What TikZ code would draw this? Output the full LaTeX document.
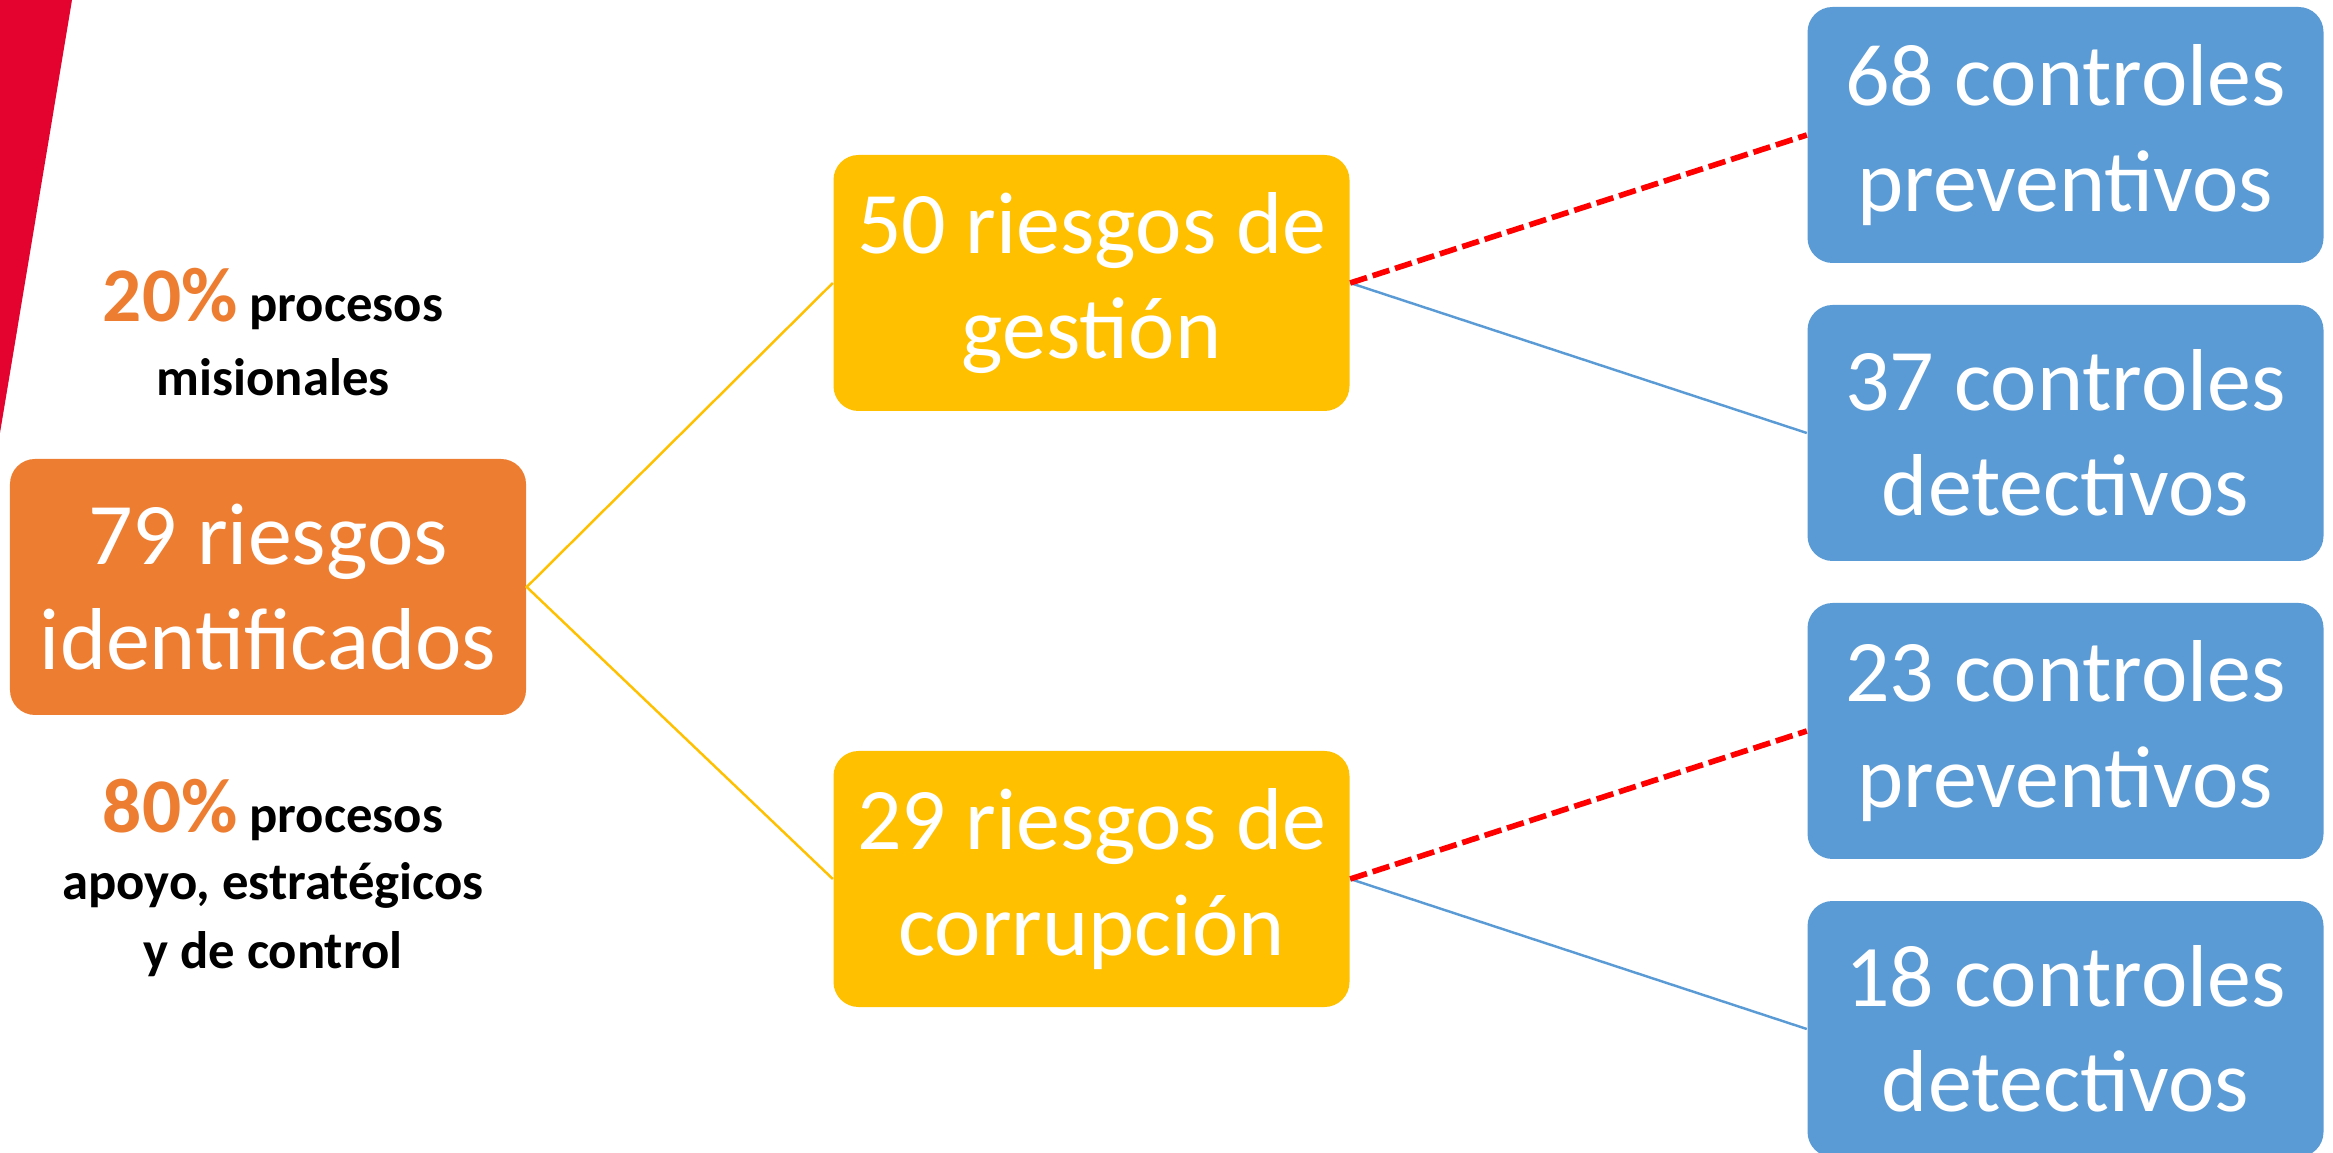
\documentclass[tikz,border=0pt]{standalone}
\usepackage{fontspec}
\setmainfont{Carlito}
\usepackage{tikz}

\definecolor{wedgered}{HTML}{E4032E}
\definecolor{riskorange}{HTML}{ED7D31}
\definecolor{riskyellow}{HTML}{FFC000}
\definecolor{ctrlblue}{HTML}{5B9BD5}
\definecolor{dashred}{HTML}{FF0000}

\newcommand{\pctnum}[1]{{\color{riskorange}\fontsize{22}{26}\selectfont\bfseries #1}}

\tikzset{
  box/.style={rounded corners=0.25cm, minimum width=5.16cm, minimum height=2.56cm,
    inner sep=0pt, align=center, text=white, font=\fontsize{25}{30}\selectfont},
  note/.style={anchor=base, inner sep=0pt, font=\fontsize{15}{19}\selectfont\bfseries}
}

\begin{document}
\begin{tikzpicture}
  \useasboundingbox (0,0) rectangle (23.33,-11.53);
  %% red corner
  \fill[wedgered] (0,0) -- (0.72,0) -- (0,-4.33) -- cycle;
  %% boxes
  \node[box, fill=riskorange] (total) at (2.68,-5.87) {79 riesgos\\identificados};
  \node[box, fill=riskyellow] (gestion) at (10.915,-2.83) {50 riesgos de\\gestión};
  \node[box, fill=riskyellow] (corrup) at (10.915,-8.79) {29 riesgos de\\corrupción};
  \node[box, fill=ctrlblue] (gprev) at (20.655,-1.35) {68 controles\\preventivos};
  \node[box, fill=ctrlblue] (gdet) at (20.655,-4.33) {37 controles\\detectivos};
  \node[box, fill=ctrlblue] (cprev) at (20.655,-7.31) {23 controles\\preventivos};
  \node[box, fill=ctrlblue] (cdet) at (20.655,-10.29) {18 controles\\detectivos};
  %% notes
  \node[note] (misA) at (2.73,-3.22) {\pctnum{20\%} procesos};
  \node[note] (misB) at (2.73,-3.96) {misionales};
  \node[note] (apoA) at (2.73,-8.32) {\pctnum{80\%} procesos};
  \node[note] (apoB) at (2.73,-9.00) {apoyo, estratégicos};
  \node[note] (apoC) at (2.73,-9.68) {y de control};
  %% connectors
  \draw[riskyellow, line width=0.7pt] (gestion.west) -- (total.east) -- (corrup.west);
  \draw[ctrlblue, line width=0.7pt] (gestion.east) -- (gdet.west);
  \draw[ctrlblue, line width=0.7pt] (corrup.east) -- (cdet.west);
  \draw[dashred, line width=1.6pt, dash pattern=on 5pt off 1.7pt] (gestion.east) -- (gprev.west);
  \draw[dashred, line width=1.6pt, dash pattern=on 5pt off 1.7pt] (corrup.east) -- (cprev.west);
\end{tikzpicture}
\end{document}
